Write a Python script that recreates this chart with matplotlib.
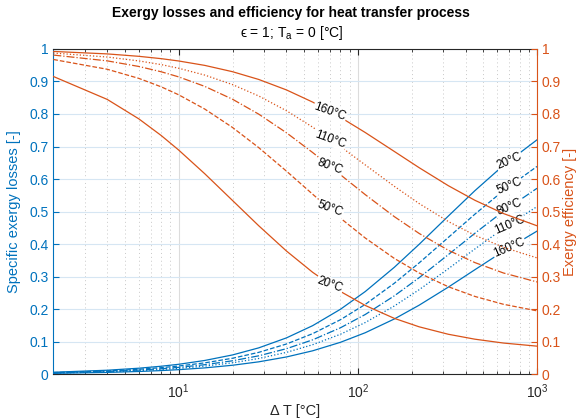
import numpy as np
import matplotlib.pyplot as plt

plt.rcParams['font.family'] = ['Liberation Sans', 'DejaVu Sans']
plt.rcParams['mathtext.fontset'] = 'custom'
plt.rcParams['mathtext.rm'] = 'Liberation Sans'

BLUE = '#0072BD'
ORANGE = '#D95319'
DARK = '#262626'

# temperature difference [°C]
dT = [2, 4, 6, 8, 10, 14, 20, 28, 40, 56, 80, 110, 160, 220, 320, 450, 650, 1000]
temps = ['20°C', '50°C', '80°C', '110°C', '160°C']

# specific exergy losses [-]
loss_20 = [0.0063, 0.0125, 0.0187, 0.0248, 0.0307, 0.0425, 0.0595, 0.0812, 0.1119,
           0.1495, 0.1998, 0.2542, 0.3290, 0.3995, 0.4863, 0.5642, 0.6422, 0.7206]
loss_50 = [0.0052, 0.0103, 0.0154, 0.0204, 0.0254, 0.0351, 0.0493, 0.0674, 0.0931,
           0.1249, 0.1677, 0.2147, 0.2799, 0.3424, 0.4206, 0.4920, 0.5646, 0.6388]
loss_80 = [0.0044, 0.0087, 0.0129, 0.0171, 0.0213, 0.0295, 0.0415, 0.0568, 0.0787,
           0.1059, 0.1429, 0.1837, 0.2412, 0.2969, 0.3677, 0.4334, 0.5012, 0.5716]
loss_110 = [0.0037, 0.0074, 0.0110, 0.0146, 0.0181, 0.0251, 0.0354, 0.0486, 0.0674,
            0.0909, 0.1231, 0.1590, 0.2100, 0.2600, 0.3244, 0.3851, 0.4485, 0.5154]
loss_160 = [0.0029, 0.0058, 0.0086, 0.0114, 0.0142, 0.0197, 0.0278, 0.0383, 0.0533,
            0.0722, 0.0983, 0.1277, 0.1701, 0.2124, 0.2679, 0.3213, 0.3784, 0.4400]

# exergy efficiency [-]
eff_20 = [0.9153, 0.8447, 0.7850, 0.7338, 0.6894, 0.6163, 0.5341, 0.4565, 0.3788,
          0.3134, 0.2546, 0.2116, 0.1718, 0.1459, 0.1230, 0.1079, 0.0960, 0.0865]
eff_50 = [0.9675, 0.9374, 0.9094, 0.8834, 0.8591, 0.8151, 0.7585, 0.6966, 0.6243,
          0.5534, 0.4798, 0.4189, 0.3560, 0.3113, 0.2690, 0.2393, 0.2151, 0.1950]
eff_80 = [0.9811, 0.9632, 0.9460, 0.9297, 0.9141, 0.8848, 0.8453, 0.7995, 0.7422,
          0.6815, 0.6133, 0.5522, 0.4844, 0.4328, 0.3812, 0.3433, 0.3113, 0.2838]
eff_110 = [0.9873, 0.9750, 0.9631, 0.9517, 0.9406, 0.9195, 0.8903, 0.8553, 0.8099,
           0.7595, 0.6998, 0.6435, 0.5775, 0.5247, 0.4695, 0.4271, 0.3903, 0.3577]
eff_160 = [0.9922, 0.9846, 0.9772, 0.9700, 0.9629, 0.9493, 0.9299, 0.9061, 0.8739,
           0.8365, 0.7898, 0.7431, 0.6847, 0.6349, 0.5796, 0.5348, 0.4940, 0.4564]

losses = [loss_20, loss_50, loss_80, loss_110, loss_160]
effs = [eff_20, eff_50, eff_80, eff_110, eff_160]
styles = ['-', '--', '-.', ':', '-']


def inline_label(ax, x0, xs, ys, text, rot):
    # put the label on the curve at x0, with a white box cutting the line
    y0 = np.interp(np.log10(x0), np.log10(xs), ys)
    ax.text(x0, y0, text, rotation=rot, rotation_mode='anchor', ha='center',
            va='center', fontsize=8.5, color='black', zorder=6,
            bbox=dict(fc='white', ec='none', pad=0.6))


fig = plt.figure(figsize=(5.77, 4.19), dpi=100)
ax = fig.add_axes([0.0924, 0.1067, 0.8383, 0.7766])
ax2 = ax.twinx()

for ys, ls in zip(losses, styles):
    ax.plot(dT, ys, ls, color=BLUE, lw=0.9, zorder=3)
for ys, ls in zip(effs, styles):
    ax2.plot(dT, ys, ls, color=ORANGE, lw=0.9, zorder=3)

for a in (ax, ax2):
    a.set_xscale('log')
    a.set_xlim(2, 1000)
    a.set_ylim(0, 1)
    a.set_yticks(np.arange(0, 1.01, 0.1))
    a.set_yticklabels(['0', '0.1', '0.2', '0.3', '0.4', '0.5', '0.6', '0.7',
                       '0.8', '0.9', '1'])

ax.set_xticks([10, 100, 1000])
ax.set_xticklabels(['$10^1$', '$10^2$', '$10^3$'])

ax.grid(axis='y', which='major', color='#d6e6f3', lw=0.8)
ax.grid(axis='x', which='major', color='#dcdcdc', lw=0.8)
ax.grid(axis='x', which='minor', color='#c8c8c8', lw=0.7, ls=(0, (1, 3)))
ax.set_axisbelow(True)

ax.tick_params(axis='x', which='both', direction='in', top=True, colors=DARK,
               labelsize=10, pad=6)
ax.tick_params(axis='x', which='major', length=4)
ax.tick_params(axis='x', which='minor', length=2)
ax.tick_params(axis='y', direction='in', colors=BLUE, labelsize=10, length=4)
ax2.tick_params(axis='y', direction='in', colors=ORANGE, labelsize=10, length=4)

ax.spines['left'].set_color(BLUE)
ax.spines['right'].set_visible(False)
ax.spines['top'].set_color(DARK)
ax.spines['bottom'].set_color(DARK)
ax2.spines['right'].set_color(ORANGE)
ax2.spines['left'].set_visible(False)
ax2.spines['top'].set_visible(False)
ax2.spines['bottom'].set_visible(False)

ax.set_ylabel('Specific exergy losses [-]', color=BLUE, fontsize=10.5, labelpad=6)
ax2.set_ylabel('Exergy efficiency [-]', color=ORANGE, fontsize=10.5, labelpad=1)
ax.set_xlabel('Δ T [°C]', color=DARK, fontsize=10.5, labelpad=2)

fig.text(0.505, 0.969, 'Exergy losses and efficiency for heat transfer process',
         ha='center', va='center', fontsize=10, fontweight='bold', color='black')
fig.text(0.505, 0.921, 'ϵ = 1; T$_{\\mathrm{a}}$ = 0 [°C]',
         ha='center', va='center', fontsize=10, color='black')

for txt, ys in zip(temps, effs):
    inline_label(ax2, 70, dT, ys, txt, -20)
for txt, ys in zip(temps, losses):
    inline_label(ax, 700, dT, ys, txt, 23)

fig.savefig('out.png', dpi=100)
